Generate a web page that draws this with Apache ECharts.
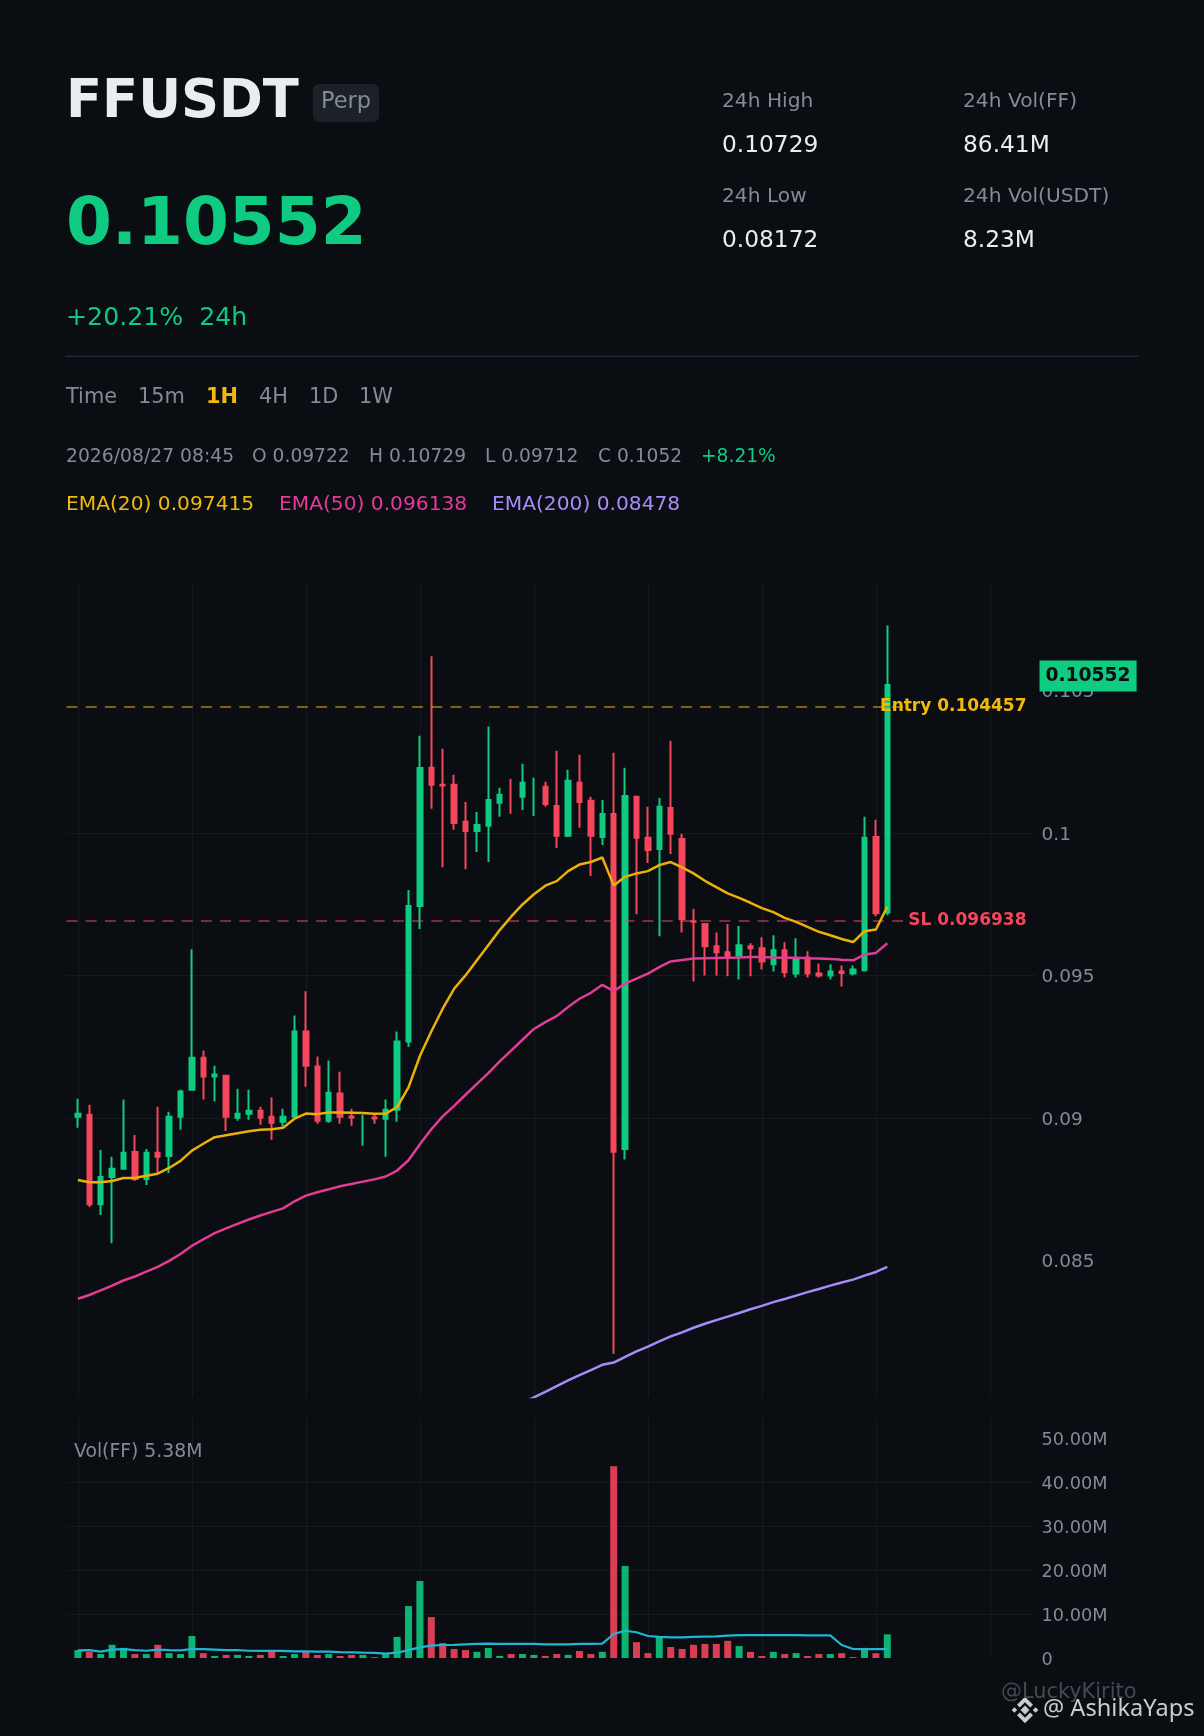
<!DOCTYPE html>
<html>
<head>
<meta charset="utf-8">
<style>html,body{margin:0;padding:0;background:#0a0d11}#c{width:1204px;height:1736px}</style>
<script src="https://cdn.jsdelivr.net/npm/echarts@6/dist/echarts.min.js"></script>
</head>
<body>
<div id="c"></div>
<script>
const opens = [.09005,.09012,.08698,.08793,.08822,.08881,.08786,.08878,.08867,.09005,.09100,.09212,.09146,.09149,.09001,.09015,.09026,.09005,.08987,.09005,.09304,.09181,.08991,.09086,.09006,.09006,.09002,.08998,.09029,.09269,.09745,.1023,.1017,.1017,.1004,.10008,.10026,.10107,.10129,.10128,.10128,.10163,.10096,.09991,.10177,.10114,.09987,.10068,.08892,.10128,.09984,.09945,.10089,.0998,.09691,.09681,.09603,.09582,.0957,.09603,.09596,.0954,.09589,.09508,.09564,.09508,.09501,.09515,.09508,.09519,.09987,.09722];
const closes = [.09015,.08698,.08793,.08822,.08878,.08786,.08878,.08864,.09005,.09093,.09212,.09146,.09153,.09005,.09015,.09026,.09001,.08984,.09005,.09304,.09184,.08991,.09089,.09005,.09002,.09012,.08999,.09029,.09269,.09745,.10229,.1017,.10168,.10036,.10008,.10029,.10117,.10135,.10128,.10177,.1013,.10103,.09991,.10184,.1011,.09991,.10068,.08882,.10131,.09984,.09941,.10093,.09998,.09698,.09689,.09603,.09582,.09564,.09607,.09596,.0955,.09589,.09512,.09557,.09508,.09501,.09515,.09509,.09522,.09984,.09719,.1052];
const lows = [.08966,.08688,.0866,.08561,.08822,.08779,.08765,.08807,.08807,.08959,.091,.09065,.09058,.08955,.08991,.08994,.08977,.08924,.08971,.09005,.0911,.0898,.08984,.0898,.08973,.08903,.0898,.08864,.08987,.0925,.09664,.10086,.09881,.10012,.09874,.09934,.09899,.10058,.10068,.10082,.10061,.10093,.09948,.09987,.10019,.0985,.09959,.08172,.08855,.09716,.09896,.09638,.09927,.09652,.0948,.09501,.09501,.09498,.09487,.09498,.09522,.09515,.09494,.09494,.09494,.09494,.09487,.09462,.09501,.09515,.09709,.09712];
const highs = [.09068,.09047,.08888,.08864,.09065,.08941,.08892,.0904,.09022,.091,.09593,.09237,.09184,.09149,.09103,.091,.0904,.09072,.09033,.0936,.09445,.09216,.09202,.09163,.09033,.09012,.09012,.09065,.09304,.09801,.10342,.10621,.10297,.10205,.1011,.10075,.10375,.1016,.10191,.10244,.10195,.10181,.1029,.10223,.10276,.10128,.10117,.10283,.1023,.10128,.10093,.10124,.10325,.09998,.09734,.09684,.09652,.09681,.09674,.09614,.09635,.09642,.09617,.09631,.09586,.09543,.0954,.09536,.09536,.10058,.10047,.10729];
const ema20 = [.08783,.08775,.08775,.08779,.0879,.0879,.08798,.08805,.08825,.0885,.08886,.0891,.08933,.0894,.08947,.08954,.08959,.08961,.08966,.08998,.09016,.09014,.0902,.0902,.09019,.09018,.09015,.09016,.09039,.09108,.09218,.09304,.09384,.09454,.09501,.09554,.09607,.0966,.09707,.0975,.09786,.09816,.09832,.09867,.0989,.09899,.09915,.09817,.09847,.09859,.09867,.09888,.09899,.0988,.09859,.09833,.09811,.09789,.09773,.09756,.09737,.09723,.09703,.09689,.09671,.09654,.09642,.09629,.09618,.09656,.09662,.09742];
const ema50 = [.08366,.08379,.08395,.08412,.0843,.08444,.08461,.08478,.08499,.08523,.08552,.08574,.08596,.08613,.08629,.08644,.08658,.08671,.08683,.08708,.08728,.0874,.0875,.08761,.08769,.08777,.08785,.08795,.08816,.08852,.08908,.08961,.09006,.09043,.09082,.0912,.09158,.09199,.09237,.09275,.09313,.09337,.09358,.0939,.09419,.0944,.09468,.09446,.09472,.0949,.09507,.0953,.0955,.09555,.0956,.09561,.09562,.09563,.09564,.09566,.09566,.09564,.09563,.09563,.09561,.0956,.09559,.09556,.09554,.09574,.0958,.09614];
const ema200 = [null,null,null,null,null,null,null,null,null,null,null,null,null,null,null,null,null,null,null,null,null,null,null,null,null,null,null,null,null,null,null,null,null,null,null,null,null,null,null,.08,.0802,.08039,.08059,.08079,.08098,.08115,.08134,.08142,.08162,.08181,.08198,.08216,.08234,.08248,.08264,.08278,.08291,.08303,.08316,.08329,.08341,.08354,.08365,.08377,.08389,.084,.08412,.08423,.08433,.08447,.0846,.08478];
const volumes = [1.8,1.4,.9,3.0,2.3,.9,.9,3.0,1.1,.9,5.0,1.1,.45,.7,.7,.45,.7,1.4,.45,.9,1.4,.7,.9,.45,.7,.7,.2,.9,4.8,11.8,17.5,9.3,3.4,2.05,1.8,1.4,2.3,.45,.9,.9,.7,.45,.9,.7,1.6,.9,1.4,43.6,20.9,3.6,1.1,4.8,2.5,2.05,3.0,3.2,3.2,3.9,2.7,1.4,.45,1.4,.9,1.1,.45,.9,.9,1.1,.2,2.3,1.1,5.38];
const volMA = [1.75,1.8,1.45,1.9,2,1.8,1.65,1.9,1.8,1.75,2.05,2,1.9,1.8,1.8,1.65,1.6,1.6,1.6,1.5,1.5,1.45,1.45,1.35,1.3,1.2,1.15,1,1.2,1.8,2.4,2.8,2.95,3,3.1,3.2,3.25,3.2,3.2,3.2,3.2,3.1,3.1,3.1,3.2,3.2,3.25,5.45,6.2,5.85,5,4.8,4.7,4.7,4.8,4.85,4.9,5.1,5.2,5.2,5.2,5.2,5.2,5.2,5.15,5.15,5.15,2.95,2.05,2,2,2];
const wickOnly = [25,38,40];
const priceTicks = [0.085,0.09,0.095,0.1,0.105];
const volTicks = [0,10,20,30,40,50];
const ENTRY = 0.104457, STOP = 0.096938, LAST = 0.10552;

const leadSlots = 1, tailSlots = 13;
const total = leadSlots + opens.length + tailSlots;
const categories = Array.from({length: total}, (_, i) => String(i));
const pad = arr => [...Array(leadSlots).fill(null), ...arr, ...Array(tailSlots).fill(null)];

const UP = '#0ecb81', DOWN = '#f6465d', BG = '#0a0d11', GRID = '#151920', MUTED = '#828b98', FONT = '"DejaVu Sans"';
const row = i => [opens[i], closes[i], lows[i], highs[i]];
const EMPTY = ['-', '-', '-', '-'];
const candleData = pad(opens.map((o, i) => wickOnly.includes(i) ? null : row(i))).map(d => d || EMPTY);
const wickData = pad(opens.map((o, i) => wickOnly.includes(i) ? row(i) : null)).map(d => d || EMPTY);
const volData = pad(volumes.map((v, i) => ({
  value: v,
  itemStyle: {color: closes[i] >= opens[i] ? UP : DOWN, opacity: .88}
})));

const texts = [
  ['FFUSDT', 66, 103, 52.8, '#eaecef', 'bold'],
  ['Perp', 321, 102.5, 22.5, MUTED],
  ['0.10552', 66, 226.5, 66, UP, 'bold'],
  ['+20.21%  24h', 66, 318, 25.2, UP],
  ['24h High', 722, 102, 20.2, MUTED],
  ['0.10729', 722, 146, 23.3, '#eaecef'],
  ['24h Low', 722, 197, 20.2, MUTED],
  ['0.08172', 722, 241, 23.3, '#eaecef'],
  ['24h Vol(FF)', 963, 102, 20.2, MUTED],
  ['86.41M', 963, 146, 23.3, '#eaecef'],
  ['24h Vol(USDT)', 963, 197, 20.2, MUTED],
  ['8.23M', 963, 241, 23.3, '#eaecef'],
  ['Time', 66, 398, 20.9, MUTED],
  ['15m', 138, 398, 20.9, MUTED],
  ['1H', 206, 398, 20.9, '#f0b90b', 'bold'],
  ['4H', 259, 398, 20.9, MUTED],
  ['1D', 309, 398, 20.9, MUTED],
  ['1W', 359, 398, 20.9, MUTED],
  ['2026/08/27 08:45', 66, 457, 18.75, MUTED],
  ['O 0.09722', 252, 457, 18.65, MUTED],
  ['H 0.10729', 369, 457, 18.65, MUTED],
  ['L 0.09712', 485, 457, 18.65, MUTED],
  ['C 0.1052', 598, 457, 18.65, MUTED],
  ['+8.21%', 701, 457, 18.65, UP],
  ['EMA(20) 0.097415', 66, 505, 20.2, '#f0b90b'],
  ['EMA(50) 0.096138', 279, 505, 20.2, '#e6399b'],
  ['EMA(200) 0.08478', 492, 505, 20.2, '#a78bfa'],
  ['Vol(FF) 5.38M', 74, 1452, 18.8, MUTED],
  ['@LuckyKirito', 1001, 1693, 20.9, '#454a52'],
];
const graphics = [
  {type:'rect', shape:{x:313,y:84,width:66,height:38,r:6}, style:{fill:'#1c2027'}, z:1},
  {type:'rect', shape:{x:65,y:355.5,width:1074,height:1.5}, style:{fill:'#1f2631'}, z:1},
  ...texts.map(t => ({type:'text', x:t[1], y:t[2], z:5, style:{
    text:t[0], fill:t[4], font:(t[5]||'normal')+' '+t[3]+'px '+FONT, textVerticalAlign:'middle', textAlign:'left'}})),
  {type:'text', x:1043, y:1709, z:6, style:{text:'@ AshikaYaps', fill:'#c9ccd1', font:'23.6px "Noto Sans"', textVerticalAlign:'middle', textAlign:'left'}},
  {type:'group', x:1025, y:1710, z:6, children:[
    [[0,-4.5],[4.5,0],[0,4.5],[-4.5,0]],
    [[-10.6,-2.8],[-7.8,0],[-10.6,2.8],[-13.4,0]],
    [[10.6,-2.8],[13.4,0],[10.6,2.8],[7.8,0]],
    [[0,-13.3],[8,-5.3],[5.2,-2.5],[0,-7.7],[-5.2,-2.5],[-8,-5.3]],
    [[0,13.3],[8,5.3],[5.2,2.5],[0,7.7],[-5.2,2.5],[-8,5.3]]
  ].map(points => ({type:'polygon', shape:{points}, style:{fill:'#c9ccd1'}}))}
];

const xAxisBase = {
  type:'category', data:categories, boundaryGap:false,
  axisLine:{show:false}, axisTick:{show:false}, axisLabel:{show:false},
  splitLine:{show:true, interval:i => (i - leadSlots) % 10 === 0, lineStyle:{color:GRID, width:1}}
};
const yAxisBase = {
  type:'value', position:'right', axisLine:{show:false},
  splitLine:{show:true, showMinLine:false, showMaxLine:false, lineStyle:{color:GRID, width:1}}
};
const axisFont = {color:MUTED, fontFamily:FONT, margin:6, verticalAlign:'top'};
const level = (value, color) => ({
  silent:true, symbol:'none', animation:false,
  lineStyle:{color, opacity:.5, width:2.2, type:[11,8.2]},
  label:{show:false},
  data:[[{coord:[0, value]}, {coord:[leadSlots + opens.length + 1, value]}]]
});
const lineSeries = (name, data, color, width, extra) => Object.assign({
  name, type:'line', data:pad(data), showSymbol:false, smooth:false, z:5, animation:false, silent:true,
  lineStyle:{color, width}, itemStyle:{color}
}, extra || {});
const tagLabel = (value, color, text) => ({
  coord:[total - 1, value],
  label:{show:true, formatter:text, color, fontFamily:FONT, fontWeight:'bold', fontSize:17, position:'left', distance:9}
});
const candleStyle = {color:UP, color0:DOWN, borderColor:UP, borderColor0:DOWN, borderWidth:2};

const chart = echarts.init(document.getElementById('c'), null, {renderer:'canvas', width:1204, height:1736});
chart.setOption({
  backgroundColor:BG, animation:false,
  graphic:graphics,
  grid:[
    {left:66.5, top:582, width:969, height:815},
    {left:66.5, top:1417, width:969, height:241}
  ],
  xAxis:[Object.assign({gridIndex:0}, xAxisBase), Object.assign({gridIndex:1}, xAxisBase)],
  yAxis:[
    Object.assign({}, yAxisBase, {gridIndex:0, min:0.08021, max:0.10882,
      axisTick:{show:false, customValues:priceTicks},
      axisLabel:Object.assign({}, axisFont, {fontSize:18.5, lineHeight:3.6, customValues:priceTicks, formatter:v => String(v)})}),
    Object.assign({}, yAxisBase, {gridIndex:1, min:0, max:54.77,
      axisTick:{show:false, customValues:volTicks},
      axisLabel:Object.assign({}, axisFont, {fontSize:17.7, lineHeight:4.4, customValues:volTicks, formatter:v => v === 0 ? '0' : v.toFixed(2) + 'M'})})
  ],
  series:[
    {name:'levels', type:'line', data:[], z:1, silent:true, animation:false,
      markLine:level(ENTRY, '#f0b90b')},
    {name:'stop', type:'line', data:[], z:1, silent:true, animation:false,
      markLine:level(STOP, DOWN)},
    {name:'FFUSDT', type:'candlestick', data:candleData, barWidth:5, z:3, animation:false, silent:true, itemStyle:candleStyle},
    {name:'FFUSDT flat', type:'candlestick', data:wickData, barWidth:0, z:3, animation:false, silent:true, itemStyle:candleStyle},
    lineSeries('EMA(200)', ema200, '#a78bfa', 2.5),
    lineSeries('EMA(50)', ema50, '#e23d96', 2.5),
    lineSeries('EMA(20)', ema20, '#ebb00a', 2.5),
    {name:'tags', type:'line', data:[], z:8, silent:true, animation:false,
      markPoint:{symbol:'rect', symbolSize:0, itemStyle:{color:'transparent'}, silent:true, animation:false, data:[
        tagLabel(ENTRY, '#f0b90b', 'Entry ' + ENTRY),
        tagLabel(STOP, DOWN, 'SL ' + STOP),
        {coord:[total - 1, LAST], label:{show:true, formatter:String(LAST), color:'#0a0d11', fontFamily:FONT, fontWeight:'bold', fontSize:18.7,
          position:'right', distance:4, backgroundColor:UP, padding:[6,6,6,6]}}
      ]}},
    {name:'Vol', type:'bar', xAxisIndex:1, yAxisIndex:1, data:volData, barWidth:7, z:3, animation:false, silent:true},
    lineSeries('VolMA', volMA, '#1fb6d6', 2.2, {xAxisIndex:1, yAxisIndex:1})
  ]
});
</script>
</body>
</html>
